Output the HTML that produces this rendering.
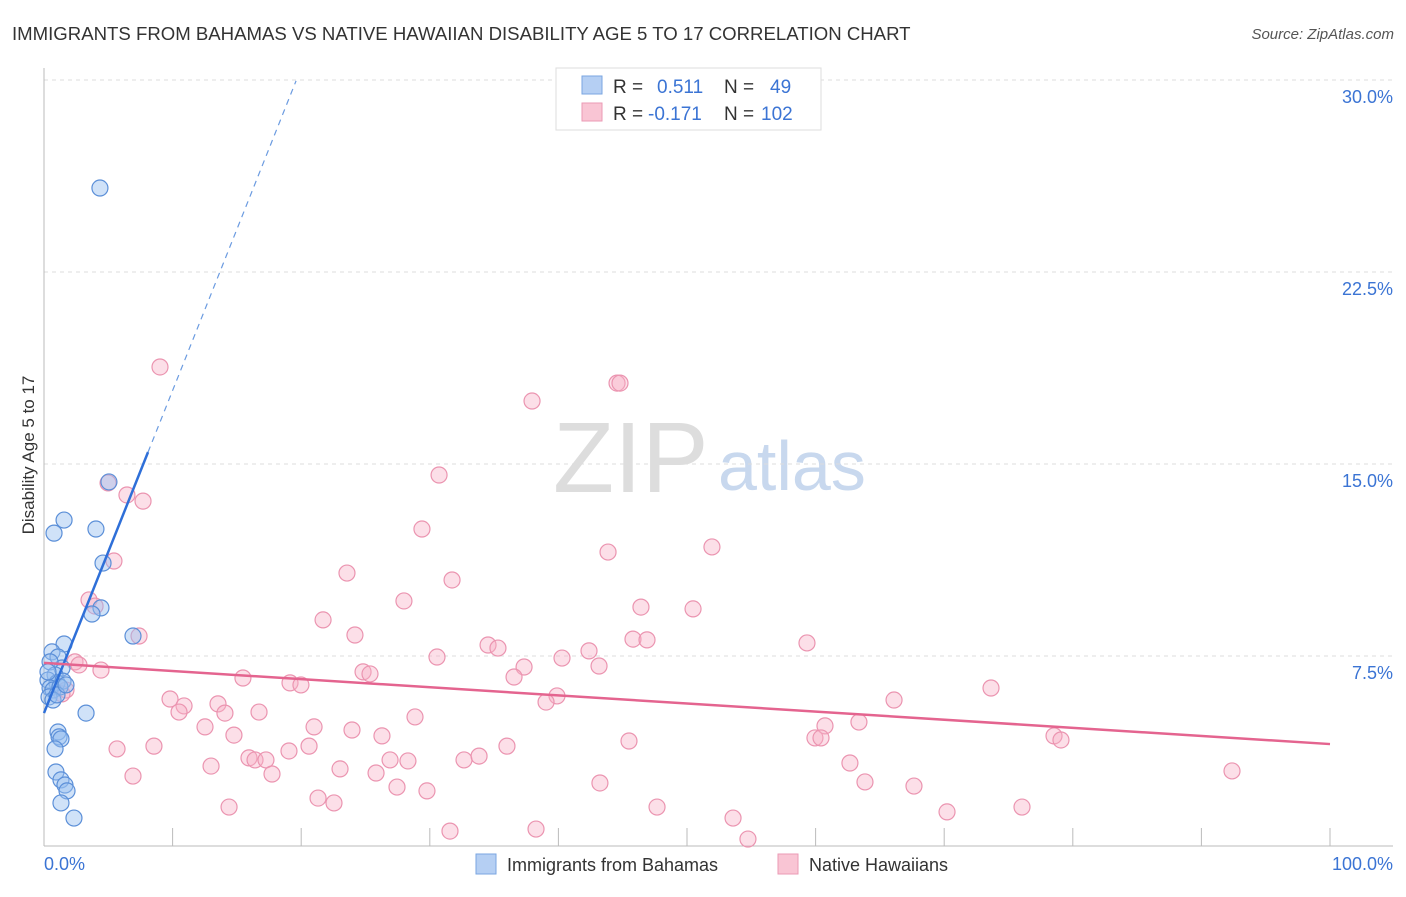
<!DOCTYPE html>
<html><head><meta charset="utf-8"><style>
body{margin:0;background:#fff;font-family:"Liberation Sans",sans-serif;}
svg text{font-family:"Liberation Sans",sans-serif;}
</style></head><body>
<svg id="chart" width="1406" height="892">
<text x="12" y="40" font-size="18.6" fill="#333">IMMIGRANTS FROM BAHAMAS VS NATIVE HAWAIIAN DISABILITY AGE 5 TO 17 CORRELATION CHART</text>
<text x="1394" y="39" font-size="15" fill="#555" text-anchor="end" font-style="italic">Source: ZipAtlas.com</text>
<text x="553" y="492" font-size="100" fill="#ddd" font-family="Liberation Serif,serif">ZIP</text>
<text x="718" y="490" font-size="70" fill="#c8d8ee">atlas</text>
<text transform="translate(34,455) rotate(-90)" font-size="17" fill="#333" text-anchor="middle">Disability Age 5 to 17</text>
<g id="grid"></g><g id="pts"></g><g id="lines"></g>
<g>
<rect x="556" y="68" width="265" height="62" fill="#fff" stroke="#ddd"/>
<rect x="582" y="76" width="20" height="18" fill="#b5cff3" stroke="#7aa6e0"/>
<rect x="582" y="103" width="20" height="18" fill="#f9c5d4" stroke="#eb9ab5"/>
<text x="613" y="93" font-size="19" fill="#333">R =</text><text x="657" y="93" font-size="19" fill="#3b74d4">0.511</text>
<text x="724" y="93" font-size="19" fill="#333">N =</text><text x="770" y="93" font-size="19" fill="#3b74d4">49</text>
<text x="613" y="120" font-size="19" fill="#333">R =</text><text x="648" y="120" font-size="19" fill="#3b74d4">-0.171</text>
<text x="724" y="120" font-size="19" fill="#333">N =</text><text x="761" y="120" font-size="19" fill="#3b74d4">102</text>
</g>
<g>
<rect x="476" y="854" width="20" height="20" fill="#b5cff3" stroke="#7aa6e0"/>
<text x="507" y="871" font-size="18" fill="#333">Immigrants from Bahamas</text>
<rect x="778" y="854" width="20" height="20" fill="#f9c5d4" stroke="#eb9ab5"/>
<text x="809" y="871" font-size="18" fill="#333">Native Hawaiians</text>
</g>
<text x="44" y="870" font-size="18" fill="#3b74d4">0.0%</text>
<text x="1393" y="870" font-size="18" fill="#3b74d4" text-anchor="end">100.0%</text>
</svg>
<script>
const yTicks=[7.5,15,22.5,30];
const yTickLabels=["7.5%","15.0%","22.5%","30.0%"];
const blueX=[4.35,5.05,1.56,0.78,4.04,4.59,4.43,3.73,6.92,1.56,0.62,1.09,1.4,0.47,0.86,0.31,1.01,1.48,0.47,0.7,1.24,0.39,3.27,1.09,1.17,1.32,0.86,0.93,1.32,1.63,1.79,1.32,2.33,0.7,1.01,1.71,0.31];
const blueY=[25.78,14.3,12.81,12.3,12.46,11.13,9.38,9.14,8.28,7.97,7.66,7.46,7.03,7.27,6.76,6.56,6.45,6.52,6.25,6.17,6.29,5.9,5.27,4.53,4.34,4.26,3.87,2.97,2.66,2.46,2.23,1.76,1.17,5.78,5.98,6.37,6.88];
const pinkX=[9.02,44.56,44.79,37.95,30.72,4.98,6.45,7.7,29.39,43.86,51.94,5.44,23.56,31.73,27.99,3.5,3.97,46.42,50.47,21.7,7.39,24.18,45.8,46.89,34.53,35.3,59.33,42.38,30.56,40.28,2.41,2.72,4.43,43.16,37.33,24.81,25.35,36.55,15.47,19.13,19.98,73.64,1.71,1.4,39.89,39.04,9.8,10.89,66.1,13.53,10.5,14.07,16.72,28.85,63.37,60.73,21.0,23.95,12.52,14.77,59.95,60.42,78.54,79.08,45.49,8.55,5.68,26.28,19.05,20.61,36.0,15.94,16.41,17.26,32.66,33.83,28.3,26.91,12.99,23.02,25.82,62.67,17.73,6.92,92.38,27.45,29.78,43.23,63.84,67.65,21.31,22.55,14.39,47.67,76.05,70.22,53.58,31.57,38.26,54.74];
const pinkY=[18.79,18.16,18.16,17.46,14.57,14.26,13.79,13.55,12.46,11.56,11.76,11.21,10.74,10.47,9.65,9.69,9.45,9.41,9.34,8.91,8.28,8.32,8.16,8.13,7.93,7.81,8.01,7.7,7.46,7.42,7.27,7.15,6.95,7.11,7.07,6.88,6.8,6.68,6.64,6.45,6.37,6.25,6.17,6.02,5.94,5.7,5.82,5.55,5.78,5.63,5.31,5.27,5.31,5.12,4.92,4.77,4.73,4.61,4.73,4.41,4.3,4.3,4.38,4.22,4.18,3.98,3.87,4.38,3.79,3.98,3.98,3.52,3.44,3.44,3.44,3.59,3.4,3.44,3.2,3.09,2.93,3.32,2.89,2.81,3.01,2.38,2.23,2.54,2.58,2.42,1.95,1.76,1.6,1.6,1.6,1.41,1.17,0.66,0.74,0.35];
const blueTrend=[5.27,1.26];
const pinkTrend=[7.23,-0.0317];
const NS="http://www.w3.org/2000/svg";
const xs=v=>44+v*12.86, ys=v=>848-v*25.6;
function mk(t,a,p){const e=document.createElementNS(NS,t);for(const k in a)e.setAttribute(k,a[k]);document.getElementById(p).appendChild(e);return e;}
yTicks.forEach((t,i)=>{
 const l=mk('line',{x1:44,x2:1393,y1:ys(t),y2:ys(t),stroke:'#ddd','stroke-dasharray':'4,4'},'grid');
 
 
 const tx=mk('text',{x:1393,y:ys(t)+23,'font-size':18,fill:'#3b74d4','text-anchor':'end'},'grid');
 tx.textContent=yTickLabels[i];
 
 
});
mk('line',{x1:44,x2:44,y1:68,y2:846,stroke:'#bbb'},'grid');
mk('line',{x1:44,x2:1393,y1:846,y2:846,stroke:'#bbb'},'grid');
for(let i=1;i<=10;i++){const t=mk('line',{x1:xs(i*10),x2:xs(i*10),y1:828,y2:846,stroke:'#bbb'},'grid');
 
 }
pinkX.forEach((x,i)=>{const c=mk('circle',{cx:xs(x),cy:ys(pinkY[i]),r:8,fill:'rgba(248,175,198,0.4)',stroke:'#eb94b0','stroke-width':1.2},'pts');
 
 });
blueX.forEach((x,i)=>{const c=mk('circle',{cx:xs(x),cy:ys(blueY[i]),r:8,fill:'rgba(150,190,240,0.45)',stroke:'#5b8fd8','stroke-width':1.2},'pts');
 
 });
const bx1=8.09,bx2=19.6;
let l1=mk('line',{x1:xs(0),y1:ys(blueTrend[0]),x2:xs(bx1),y2:ys(blueTrend[0]+blueTrend[1]*bx1),stroke:'#2e6fd8','stroke-width':2.5},'lines');


let l2=mk('line',{x1:xs(bx1),y1:ys(blueTrend[0]+blueTrend[1]*bx1),x2:xs(bx2),y2:ys(blueTrend[0]+blueTrend[1]*bx2),stroke:'#6b9be0','stroke-width':1.2,'stroke-dasharray':'6,5'},'lines');


let l3=mk('line',{x1:xs(0),y1:ys(pinkTrend[0]),x2:xs(100),y2:ys(pinkTrend[0]+pinkTrend[1]*100),stroke:'#e4648f','stroke-width':2.5},'lines');


</script>
</body></html>
